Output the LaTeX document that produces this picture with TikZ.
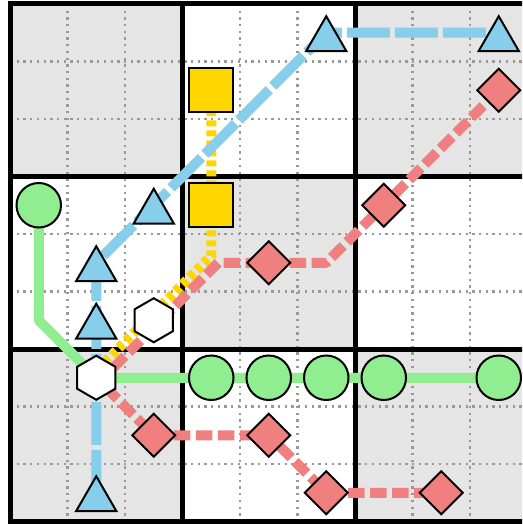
\documentclass[tikz,border=0pt]{standalone}
\usetikzlibrary{shapes.geometric}
\definecolor{cgray}{HTML}{E5E5E5}
\definecolor{cblue}{HTML}{87CEEB}
\definecolor{cgreen}{HTML}{90EE90}
\definecolor{cgold}{HTML}{FFD700}
\definecolor{cred}{HTML}{F08080}
\definecolor{cdot}{HTML}{999999}
\begin{document}
\begin{tikzpicture}[x=1pt,y=-1pt,
 shp/.style={draw=black,line width=2pt,inner sep=0pt,outer sep=0pt},
 tri/.style={shp,fill=cblue,regular polygon,regular polygon sides=3,minimum size=46.6pt,yshift=-6.8pt},
 sq/.style={shp,fill=cgold,rectangle,minimum size=44pt},
 circ/.style={shp,fill=cgreen,circle,minimum size=44.5pt},
 dia/.style={shp,fill=cred,diamond,minimum size=43pt},
 hex/.style={shp,fill=white,regular polygon,regular polygon sides=6,minimum size=44pt,rotate=30},
 majorgrid/.style={line width=5pt,black,line cap=rect},
 dotgrid/.style={cdot,line width=2.3pt,dash pattern=on 2.3pt off 4.4pt},
 blueline/.style={cblue,line width=10pt,dash pattern=on 43pt off 5pt,dash phase=35pt,line join=round},
 redline/.style={cred,line width=10pt,dash pattern=on 16.5pt off 5.5pt,line join=round},
 yelline/.style={cgold,line width=10pt,dash pattern=on 6pt off 4pt},
 greenline/.style={cgreen,line width=10pt,line join=round}]
\useasboundingbox (0,0) rectangle (522,524);
\clip (0,0) rectangle (522,524);
\fill[white] (0,0) rectangle (522,524);
% checkerboard
\fill[cgray] (10,4) rectangle (182.5,176.5);
\fill[cgray] (355,4) rectangle (527.5,176.5);
\fill[cgray] (182.5,176.5) rectangle (355,349);
\fill[cgray] (10,349) rectangle (182.5,521.5);
\fill[cgray] (355,349) rectangle (527.5,521.5);
% dotted minor grid
\foreach \v in {67.5,125,240,297.5,412.5,470} {
  \draw[dotgrid] (\v,4) -- (\v,524);
}
\foreach \v in {61.5,119,234,291.5,406.5,464} {
  \draw[dotgrid] (10,\v) -- (527,\v);
}
% major grid
\foreach \v in {10,182.5,355,527.5} {
  \draw[majorgrid] (\v,4) -- (\v,521.5);
}
\foreach \v in {4,176.5,349,521.5} {
  \draw[majorgrid] (10,\v) -- (527.5,\v);
}
% positions
\coordinate (pTA) at (326.25,32.75);
\coordinate (pTB) at (498.75,32.75);
\coordinate (pTC) at (153.75,205.25);
\coordinate (pTD) at (96.25,262.75);
\coordinate (pTE) at (96.25,320.25);
\coordinate (pTF) at (96.25,492.75);
\coordinate (pSA) at (211.25,90.25);
\coordinate (pSB) at (211.25,205.25);
\coordinate (pCA) at (38.75,205.25);
\coordinate (pCB) at (211.25,377.75);
\coordinate (pCC) at (268.75,377.75);
\coordinate (pCD) at (326.25,377.75);
\coordinate (pCE) at (383.75,377.75);
\coordinate (pCF) at (498.75,377.75);
\coordinate (pHA) at (153.75,320.25);
\coordinate (pHB) at (96.25,377.75);
\coordinate (pDA) at (498.75,90.25);
\coordinate (pDB) at (383.75,205.25);
\coordinate (pDC) at (268.75,262.75);
\coordinate (pDD) at (153.75,435.25);
\coordinate (pDE) at (268.75,435.25);
\coordinate (pDF) at (326.25,492.75);
\coordinate (pDG) at (441.25,492.75);
% bends
\coordinate (yb1) at (211.25,255.7);
\coordinate (ye1) at (92.7,374.2);
\coordinate (rb1) at (326.25,262.75);
\coordinate (rb2) at (218.3,262.75);
\coordinate (rb3) at (99.8,381.3);
\coordinate (gb1) at (38.75,320.25);
% lines
\draw[yelline] (pSA) -- (pSB) -- (yb1) -- (ye1);
\draw[redline] (pDA) -- (pDB) -- (rb1) -- (pDC) -- (rb2) -- (rb3) -- (pDD) -- (pDE) -- (pDF) -- (pDG);
\draw[greenline] (pCA) -- (gb1) -- (pHB) -- (pCF);
\draw[blueline] (pTB) -- (pTA) -- (pTC) -- (pTD) -- (pTF);
% stations
\node[tri] (tA) at (pTA) {};
\node[tri] (tB) at (pTB) {};
\node[tri] (tC) at (pTC) {};
\node[tri] (tD) at (pTD) {};
\node[tri] (tE) at (pTE) {};
\node[tri] (tF) at (pTF) {};
\node[sq] (sA) at (pSA) {};
\node[sq] (sB) at (pSB) {};
\node[circ] (cA) at (pCA) {};
\node[circ] (cB) at (pCB) {};
\node[circ] (cC) at (pCC) {};
\node[circ] (cD) at (pCD) {};
\node[circ] (cE) at (pCE) {};
\node[circ] (cF) at (pCF) {};
\node[hex] (hA) at (pHA) {};
\node[hex] (hB) at (pHB) {};
\node[dia] (dA) at (pDA) {};
\node[dia] (dB) at (pDB) {};
\node[dia] (dC) at (pDC) {};
\node[dia] (dD) at (pDD) {};
\node[dia] (dE) at (pDE) {};
\node[dia] (dF) at (pDF) {};
\node[dia] (dG) at (pDG) {};
\end{tikzpicture}
\end{document}
